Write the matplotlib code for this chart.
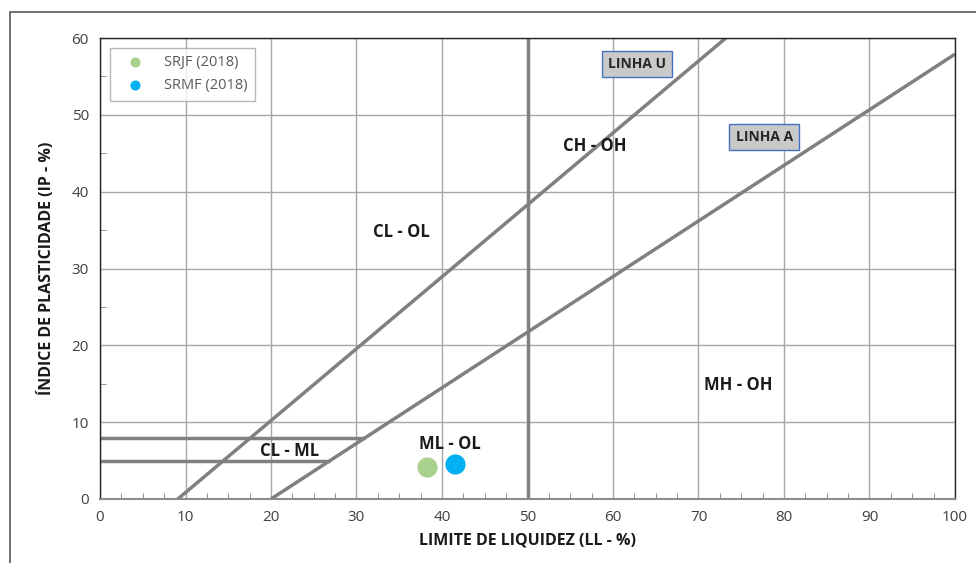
import matplotlib
matplotlib.use("Agg")
import matplotlib.pyplot as plt
import numpy as np
from matplotlib.patches import Rectangle

plt.rcParams['font.family'] = ['Open Sans', 'DejaVu Sans']

# Data
series_names = ["SRJF (2018)", "SRMF (2018)"]
series_ll = [38.3, 41.5]
series_ip = [4.2, 4.6]
series_colors = ["#A9D18E", "#00B0F0"]

u_line_ll = [9.1, 73.2]
u_line_ip = [0, 60]
a_line_ll = [20, 100]
a_line_ip = [0, 57.9]
h8_ll = [0, 31.0]
h8_ip = [8, 8]
h5_ll = [0, 26.9]
h5_ip = [5, 5]
v50_ll = [50, 50]
v50_ip = [0, 60]

zone_labels = ["CL - OL", "CH - OH", "MH - OH", "ML - OL", "CL - ML"]
zone_x = [35.2, 57.9, 74.7, 40.9, 22.2]
zone_y = [34.8, 46.0, 14.8, 7.2, 6.3]

box_labels = ["LINHA U", "LINHA A"]
box_x = [62.8, 77.7]
box_y = [56.6, 47.1]

fig = plt.figure(figsize=(9.76, 5.63), dpi=100)
W, H = 976, 563
ax = fig.add_axes([100 / W, 1 - 499 / H, 855 / W, 461 / H])

# outer frame
fig.patches.append(Rectangle((10 / W, -0.05), 1.1, 1 - 12 / H + 0.05, transform=fig.transFigure,
                             fill=False, edgecolor="#595959", linewidth=1.2))

ax.set_xlim(0, 100)
ax.set_ylim(0, 60)
ax.set_xticks(np.arange(0, 101, 10))
ax.set_yticks(np.arange(0, 61, 10))
ax.set_xticks(np.arange(0, 101, 2.5), minor=True)
ax.set_yticks(np.arange(0, 61, 5), minor=True)
ax.grid(True, which='major', color="#A6A6A6", linewidth=1.0)
ax.set_axisbelow(True)
ax.tick_params(which='major', length=0, labelsize=11, labelcolor="#404040", pad=8)
ax.tick_params(which='minor', direction='in', length=4, color="#808080")
for s in ['top', 'right', 'left']:
    ax.spines[s].set_color("#222222")
    ax.spines[s].set_linewidth(1.0)
ax.spines['bottom'].set_color("#8C8C8C")
ax.spines['bottom'].set_linewidth(1.5)

lc = "#808080"
lw = 2.5
for xs, ys in [(u_line_ll, u_line_ip), (a_line_ll, a_line_ip), (h8_ll, h8_ip),
               (h5_ll, h5_ip), (v50_ll, v50_ip)]:
    ax.plot(xs, ys, color=lc, linewidth=lw, solid_capstyle='butt', clip_on=True)

for name, x, y, c in zip(series_names, series_ll, series_ip, series_colors):
    ax.scatter([x], [y], s=210, color=c, label=name, zorder=5, linewidths=0)

for t, x, y in zip(zone_labels, zone_x, zone_y):
    ax.text(x, y, t, ha='center', va='center', fontsize=12, fontweight='bold', color="#1a1a1a")

for t, x, y in zip(box_labels, box_x, box_y):
    ax.text(x, y, t, ha='center', va='center', fontsize=10, fontweight='bold', color="#262626",
            bbox=dict(boxstyle='square,pad=0.45', facecolor="#C9C9C9", edgecolor="#4472C4", linewidth=1.0))

leg = ax.legend(loc='upper left', bbox_to_anchor=(10 / 855, 1 - 10 / 461), frameon=True,
                fancybox=False, edgecolor="#A6A6A6", fontsize=10.5, markerscale=0.5,
                labelcolor="#595959", borderpad=0.5, handletextpad=0.8, labelspacing=0.55,
                borderaxespad=0, handlelength=2.4)
leg.get_frame().set_linewidth(1.0)

ax.set_xlabel("LIMITE DE LIQUIDEZ (LL - %)", fontsize=11.5, fontweight='bold', color="#1a1a1a", labelpad=5)
ax.set_ylabel("ÍNDICE DE PLASTICIDADE (IP - %)", fontsize=11.5, fontweight='bold', color="#1a1a1a", labelpad=12)

fig.savefig("out.png", dpi=100)
